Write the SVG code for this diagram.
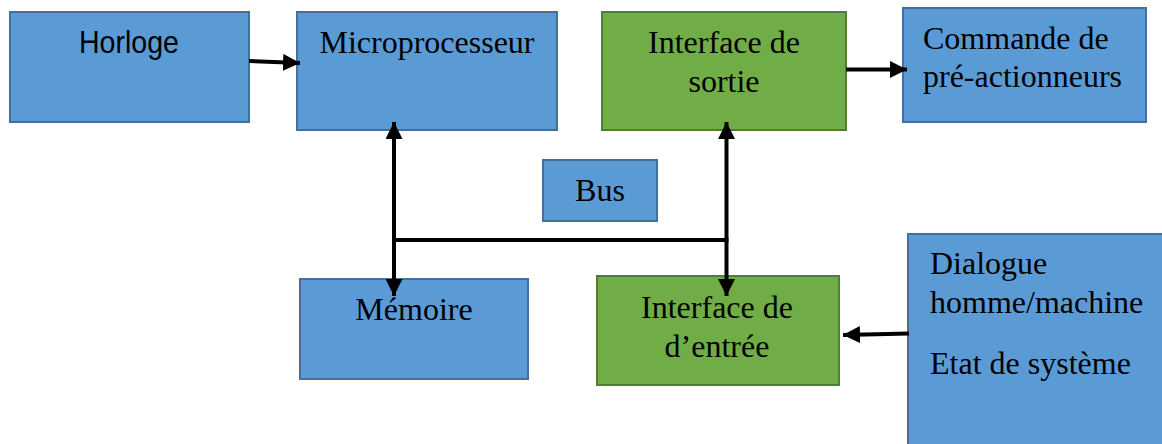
<svg xmlns="http://www.w3.org/2000/svg" width="1162" height="444" viewBox="0 0 1162 444">
<style>
.blue{fill:#5B9BD5;stroke:#41719C;stroke-width:2}
.green{fill:#70AD47;stroke:#507E32;stroke-width:2}
.t{font-family:"Liberation Serif","Times New Roman",serif;font-size:32px;fill:#000}
.s{font-family:"Liberation Sans",Arial,sans-serif;font-size:32px;fill:#000}
.c{text-anchor:middle}
.ln{stroke:#000;stroke-width:4;fill:none}
</style>
<defs>
<marker id="ah" markerUnits="userSpaceOnUse" markerWidth="17" markerHeight="17" viewBox="0 0 17 17" refX="17" refY="8.5" orient="auto">
<path d="M0,0 L17,8.5 L0,17 Z" fill="#000"/>
</marker>
</defs>
<rect width="1162" height="444" fill="#fff"/>
<g id="horloge"><rect class="blue" x="10" y="12" width="239" height="110"/><text class="s" x="79" y="53" textLength="100" lengthAdjust="spacingAndGlyphs">Horloge</text></g>
<g id="microprocesseur"><rect class="blue" x="297" y="12" width="260" height="118"/><text class="t c" x="427" y="53">Microprocesseur</text></g>
<g id="interface-sortie"><rect class="green" x="602" y="12" width="244" height="118"/><text class="t c" x="724" y="53">Interface de</text><text class="t c" x="724" y="92">sortie</text></g>
<g id="commande"><rect class="blue" x="903" y="8" width="243" height="114"/><text class="t" x="923" y="49">Commande de</text><text class="t" x="923" y="87">pré-actionneurs</text></g>
<g id="bus"><rect class="blue" x="543" y="160" width="114" height="61"/><text class="t c" x="600" y="201">Bus</text></g>
<g id="memoire"><rect class="blue" x="300" y="279" width="228" height="100"/><text class="t c" x="414" y="320">Mémoire</text></g>
<g id="interface-entree"><rect class="green" x="597" y="276" width="242" height="109"/><text class="t c" x="717" y="318">Interface de</text><text class="t c" x="717" y="357">d’entrée</text></g>
<g id="dialogue"><rect class="blue" x="908" y="234" width="262" height="220"/><text class="t" x="930" y="274">Dialogue</text><text class="t" x="930" y="313">homme/machine</text><text class="t" x="930" y="374">Etat de système</text></g>
<g id="connectors">
<line class="ln" x1="249" y1="61" x2="300" y2="63" marker-end="url(#ah)"/>
<line class="ln" x1="846" y1="69.5" x2="907" y2="69.5" marker-end="url(#ah)"/>
<line class="ln" x1="909" y1="333.5" x2="843" y2="335" marker-end="url(#ah)"/>
<line class="ln" x1="394" y1="240" x2="394" y2="122" marker-end="url(#ah)"/>
<line class="ln" x1="394" y1="240" x2="394" y2="296" marker-end="url(#ah)"/>
<line class="ln" x1="726.5" y1="240" x2="726.5" y2="122" marker-end="url(#ah)"/>
<line class="ln" x1="726.5" y1="240" x2="726.5" y2="296" marker-end="url(#ah)"/>
<line class="ln" x1="392" y1="240" x2="728.5" y2="240"/>
</g>
</svg>
